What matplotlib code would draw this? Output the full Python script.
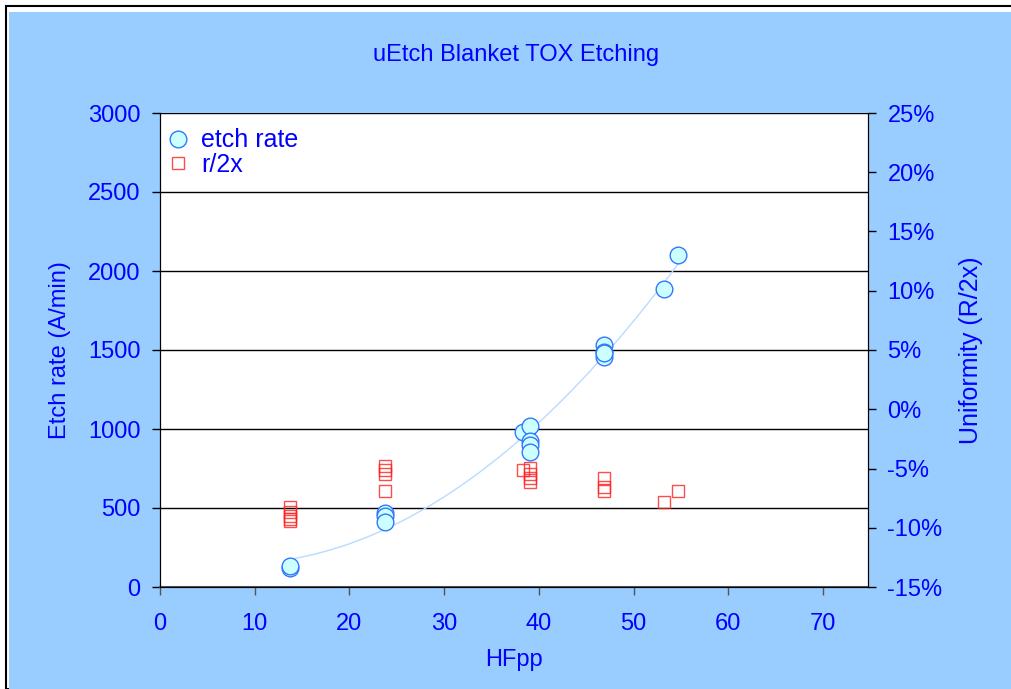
import matplotlib.pyplot as plt
import matplotlib.patches as mpatches
import numpy as np

plt.rcParams['font.family'] = ['Liberation Sans', 'DejaVu Sans']

# etch rate (left axis)
hf_rate = [13.7, 13.7, 23.8, 23.8, 23.8, 38.3, 39.1, 39.1, 39.1, 39.1,
           46.9, 46.9, 46.9, 46.9, 53.2, 54.7]
etch_rate = [120, 130, 470, 450, 410, 980, 1020, 925, 900, 855,
             1530, 1487, 1456, 1478, 1886, 2100]

# uniformity r/2x (right axis, %)
hf_unif = [13.7, 13.7, 13.7, 13.7, 13.7, 23.8, 23.8, 23.8, 23.8, 38.3,
           39.1, 39.1, 39.1, 39.1, 46.9, 46.9, 46.9, 53.2, 54.7]
uniformity = [-8.25, -8.65, -9.0, -9.25, -9.4, -4.8, -5.1, -5.45, -6.9, -5.1,
              -4.95, -5.45, -5.8, -6.15, -5.8, -6.55, -6.9, -7.85, -6.9]

blue = '#0000FF'
bg = '#99CCFF'

fig = plt.figure(figsize=(10.11, 6.89), dpi=100)
fig.patch.set_facecolor('white')
fig.add_artist(mpatches.Rectangle((6 / 1011, 0), 1.0, 1 - 6 / 689, transform=fig.transFigure,
                                  facecolor='white', edgecolor='black', lw=1.5, zorder=-3))
fig.add_artist(mpatches.Rectangle((9 / 1011, 0), 1.0, 1 - 12 / 689, transform=fig.transFigure,
                                  facecolor=bg, edgecolor='none', zorder=-2))

ax = fig.add_axes([160 / 1011, 1 - 587 / 689, 708 / 1011, 474 / 689])
ax.set_facecolor('white')
ax.set_xlim(0, 74.75)
ax.set_ylim(0, 3000)
ax.set_yticks(range(0, 3001, 500))
ax.set_xticks(range(0, 71, 10))
ax.yaxis.grid(True, color='black', lw=1)
ax.set_axisbelow(True)

# 2nd order trendline through the etch rate points
coef = np.polyfit(hf_rate, etch_rate, 2)
xs = np.linspace(min(hf_rate), max(hf_rate), 100)
ax.plot(xs, np.polyval(coef, xs), color='#B8DCFF', lw=1, zorder=2)

ax.plot(hf_rate, etch_rate, 'o', ms=12, mfc='#CCFFFF', mec='#3377FF', mew=1,
        label='etch rate', zorder=3)

ax2 = ax.twinx()
ax2.set_ylim(-15, 25)
ax2.set_yticks(range(-15, 26, 5))
ax2.set_yticklabels([f'{v}%' for v in range(-15, 26, 5)])
ax2.plot(hf_unif, uniformity, 's', ms=8.5, mfc='none', mec='#FF2020', mew=1,
         alpha=0.8, label='r/2x')

for a in (ax, ax2):
    a.tick_params(colors='black', labelcolor=blue, labelsize=17, length=6, width=1)
    a.spines['top'].set_visible(False)
ax.tick_params(axis='x', pad=13, color='#555555')
ax.tick_params(axis='y', pad=8)
ax2.tick_params(axis='y', pad=8)
ax.spines['bottom'].set_color('#555555')
ax.spines['bottom'].set_linewidth(1.5)

ax.set_xlabel('HFpp', color=blue, fontsize=17, labelpad=10)
ax.set_ylabel('Etch rate (A/min)', color=blue, fontsize=17, labelpad=12)
ax2.set_ylabel('Uniformity (R/2x)', color=blue, fontsize=18, labelpad=12)
fig.text(516 / 1011, 1 - 55 / 689, 'uEtch Blanket TOX Etching', color=blue,
         fontsize=17, ha='center', va='center')

h1, l1 = ax.get_legend_handles_labels()
h2, l2 = ax2.get_legend_handles_labels()
leg = ax2.legend(h1 + h2, l1 + l2, loc='upper left', frameon=False, fontsize=18,
                 handletextpad=0.4, borderaxespad=0.0, borderpad=0.2,
                 labelspacing=0.02, handlelength=1.05, bbox_to_anchor=(0.0, 0.978))
for t in leg.get_texts():
    t.set_color(blue)

fig.savefig('out.png', dpi=100, facecolor=fig.get_facecolor())
